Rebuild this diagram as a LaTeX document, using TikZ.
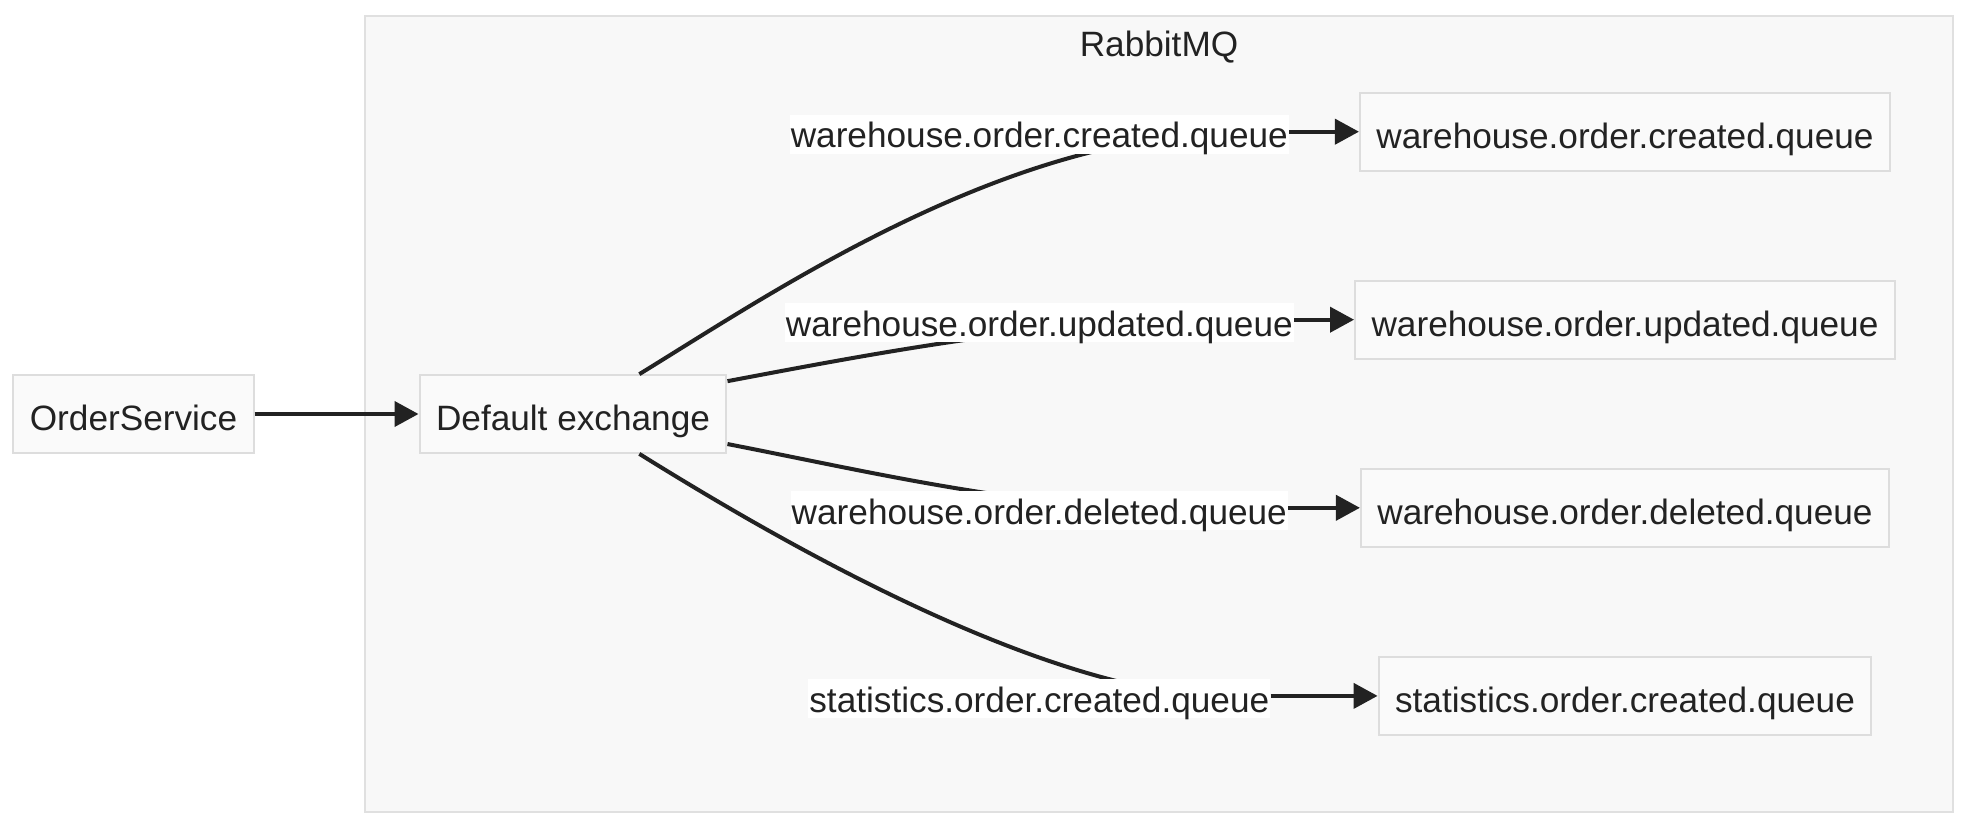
\documentclass[tikz,border=0pt]{standalone}
\usepackage{fontspec}
\setmainfont{Liberation Sans}
\usetikzlibrary{arrows.meta}
\definecolor{clfill}{HTML}{F8F8F8}
\definecolor{clline}{HTML}{E0E0E0}
\definecolor{nfill}{HTML}{FAFAFA}
\definecolor{nline}{HTML}{DDDDDD}
\definecolor{ink}{HTML}{222222}
\begin{document}
\begin{tikzpicture}[x=0.5pt,y=-0.5pt,
  font=\fontsize{17.6}{21}\selectfont, text=ink,
  box/.style={draw=nline, fill=nfill, line width=1pt, minimum height=38.85pt,
    inner xsep=8.25pt, inner ysep=0pt, text height=16.9pt, text depth=0.3pt},
  elabel/.style={fill=white, inner xsep=0.5pt, inner ysep=0pt, minimum height=19.5pt,
    text height=15pt, text depth=1.2pt},
  edge/.style={draw=ink, line width=2pt},
  arr/.style={edge, -{Triangle[length=12pt,width=12.5pt]}}]
\useasboundingbox (0,0) rectangle (1966,824);
% cluster
\path[draw=clline, fill=clfill, line width=1pt] (365,16) rectangle (1953,812);
\node[text height=16.9pt, text depth=0.3pt] (title) at (1159,40.2) {RabbitMQ};
% nodes
\node[box] (os) at (133.5,414) {OrderService};
\node[box] (ex) at (573,414) {Default exchange};
\node[box] (q1) at (1625,131.7) {warehouse.order.created.queue};
\node[box] (q2) at (1625,319.7) {warehouse.order.updated.queue};
\node[box] (q3) at (1625,507.8) {warehouse.order.deleted.queue};
\node[box] (q4) at (1625,695.9) {statistics.order.created.queue};
% hidden bend points behind the labels
\coordinate (h1) at (1150,140);
\coordinate (h2) at (1100,324);
\coordinate (h3) at (1100,507);
\coordinate (h4) at (1170,692);
% edges
\draw[arr] (os.east) -- (ex.west);
\draw[edge] (ex.31) .. controls (760,300) and (950,172) .. (h1);
\draw[edge] (ex.12) .. controls (850,358) and (960,337) .. (h2);
\draw[edge] (ex.-11) .. controls (850,468) and (960,494) .. (h3);
\draw[edge] (ex.-31) .. controls (760,529) and (990,664) .. (h4);
% edge labels
\node[elabel] (l1) at (1039.3,134.2) {warehouse.order.created.queue};
\node[elabel] (l2) at (1039.3,322.2) {warehouse.order.updated.queue};
\node[elabel] (l3) at (1039.3,510.3) {warehouse.order.deleted.queue};
\node[elabel] (l4) at (1039.3,698.4) {statistics.order.created.queue};
\draw[arr] (l1.east |- q1.west) -- (q1.west);
\draw[arr] (l2.east |- q2.west) -- (q2.west);
\draw[arr] (l3.east |- q3.west) -- (q3.west);
\draw[arr] (l4.east |- q4.west) -- (q4.west);
\end{tikzpicture}
\end{document}
